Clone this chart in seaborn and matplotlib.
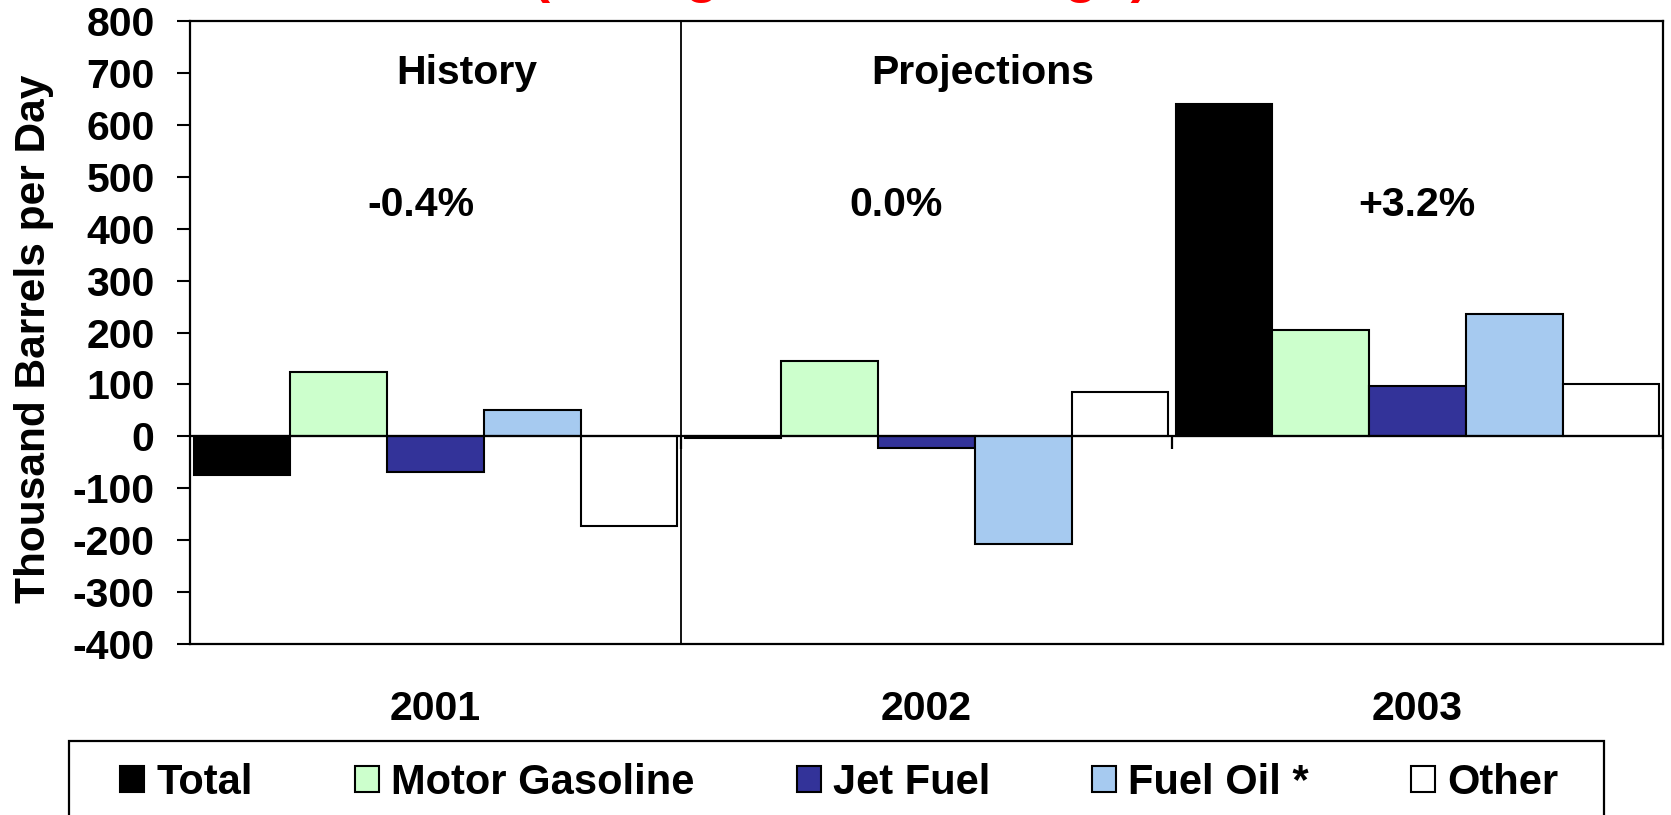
import numpy as np
import pandas as pd
import seaborn as sns
import matplotlib.pyplot as plt
from matplotlib.patches import Rectangle

# --- data ---
years = ['2001', '2002', '2003']
products = ['Total', 'Motor Gasoline', 'Jet Fuel', 'Fuel Oil *', 'Other']
total = [-74, -4, 640]
motor_gasoline = [123, 146, 204]
jet_fuel = [-69, -23, 97]
fuel_oil = [50, -208, 235]
other = [-173, 85, 101]
growth_labels = ['-0.4%', '0.0%', '+3.2%']
period_labels = ['History', 'Projections']

colors = ['#000000', '#CCFFCC', '#333399', '#A6CAF0', '#FFFFFF']
FS = 29.5

rows = []
for name, vals in zip(products, [total, motor_gasoline, jet_fuel, fuel_oil, other]):
    for yr, v in zip(years, vals):
        rows.append({'Year': yr, 'Product': name, 'Value': v})
df = pd.DataFrame(rows)

sns.set_style('white')
plt.rcParams['font.family'] = ['Liberation Sans', 'DejaVu Sans']
plt.rcParams['font.weight'] = 'bold'
plt.rcParams['axes.unicode_minus'] = False
for key in ['text.color', 'axes.labelcolor', 'xtick.color', 'ytick.color']:
    plt.rcParams[key] = 'black'

W, H = 1671, 815
fig = plt.figure(figsize=(W / 100, H / 100), dpi=100)
ax = fig.add_axes([190 / W, 1 - 644 / H, (1663 - 190) / W, (644 - 21) / H])

sns.barplot(data=df, x='Year', y='Value', hue='Product', order=years, hue_order=products,
            palette=colors, saturation=1, width=0.985, edgecolor='black', linewidth=1.5,
            errorbar=None, legend=False, ax=ax)

ax.set_xlim(-0.5, len(years) - 0.5)
ax.set_ylim(-400, 800)
ax.set_yticks(range(-400, 801, 100))
ax.set_xlabel('')
ax.set_ylabel('Thousand Barrels per Day', fontsize=30.5, fontweight='bold')
ax.yaxis.set_label_coords(-0.092, 0.49)
ax.tick_params(axis='y', direction='out', length=9.5, width=1.5, pad=16,
               labelsize=FS, left=True)
ax.tick_params(axis='x', length=0, pad=33, labelsize=FS)
for lab in ax.get_xticklabels() + ax.get_yticklabels():
    lab.set_fontweight('bold')
for s in ax.spines.values():
    s.set_visible(True)
    s.set_color('black')
    s.set_linewidth(1.6)

# zero line, history/projection divider, category ticks at zero
ax.axhline(0, color='black', lw=1.6, zorder=1)
ax.axvline(0.5, color='black', lw=1.3)
ax.vlines(np.arange(len(years)) + 0.5, -25, 0, color='black', lw=1.6)

# annotations
ax.text(0.064, 700, period_labels[0], ha='center', va='center', fontsize=FS, fontweight='bold')
ax.text(1.115, 700, period_labels[1], ha='center', va='center', fontsize=FS, fontweight='bold')
for xpos, lab in zip([-0.03, 0.938, 1.999], growth_labels):
    ax.text(xpos, 445, lab, ha='center', va='center', fontsize=FS, fontweight='bold')

# title, mostly cut off at the top like in the original
fig.text(840 / W, 1 + 8 / H, '(Change from Year Ago)', ha='center', va='baseline',
         color='#FF0000', fontsize=39, fontweight='bold')

# legend
handles = [c.patches[0] for c in ax.containers]
fig.legend(handles, products, loc='center left', bbox_to_anchor=(120 / W, 1 - 783 / H),
           ncol=5, frameon=False, prop={'size': 30, 'weight': 'bold'},
           handlelength=0.58, handleheight=0.58, handletextpad=0.29,
           columnspacing=2.45, borderaxespad=0, borderpad=0)
fig.patches.append(Rectangle((69 / W, -0.05), (1604 - 69) / W, 0.05 + 1 - 741 / H,
                             transform=fig.transFigure, fill=False, edgecolor='black', lw=1.6))

fig.savefig('out.png', dpi=100)
